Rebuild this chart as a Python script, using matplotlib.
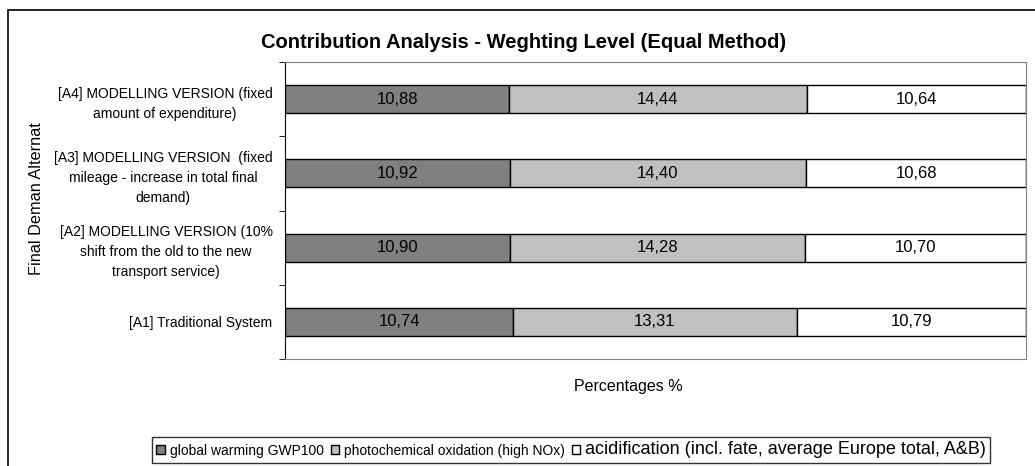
import numpy as np
import matplotlib
matplotlib.use('Agg')
import matplotlib.pyplot as plt
from matplotlib.patches import Rectangle

plt.rcParams['font.family'] = ['Liberation Sans', 'DejaVu Sans']

# Data (bottom to top)
categories = [
    '[A1] Traditional System',
    '[A2] MODELLING VERSION (10%\nshift from the old to the new\ntransport service)',
    '[A3] MODELLING VERSION  (fixed\nmileage - increase in total final\ndemand)',
    '[A4] MODELLING VERSION (fixed\namount of expenditure)',
]
series_names = [
    'global warming GWP100',
    'photochemical oxidation (high NOx)',
    'acidification (incl. fate, average Europe total, A&B)',
]
gwp = [10.74, 10.90, 10.92, 10.88]
photo = [13.31, 14.28, 14.40, 14.44]
acid = [10.79, 10.70, 10.68, 10.64]

colors = ['#808080', '#C0C0C0', '#FFFFFF']

fig = plt.figure(figsize=(10.35, 4.66), dpi=100)
ax = fig.add_axes([285 / 1035, 1 - 359 / 466, (1026 - 285) / 1035, (359 - 62) / 466])

# 100% stacked: widths are shares of each row total
values = np.array([gwp, photo, acid])
totals = values.sum(axis=0)
shares = values / totals * 100
y = np.arange(len(categories))

left = np.zeros(len(categories))
for i, name in enumerate(series_names):
    bars = ax.barh(y, shares[i], left=left, height=0.38, color=colors[i],
                   edgecolor='black', linewidth=1.0, label=name)
    for b, v in zip(bars, values[i]):
        ax.text(b.get_x() + b.get_width() / 2, b.get_y() + b.get_height() / 2,
                f'{v:.2f}'.replace('.', ','), ha='center', va='center', fontsize=12)
    left += shares[i]

ax.set_xlim(0, 100)
ax.set_ylim(-0.5, len(categories) - 0.5)
ax.set_xticks([])
ax.set_yticks(y)
ax.set_yticklabels(categories, fontsize=10, linespacing=1.55)
for lbl in ax.get_yticklabels():
    lbl.set_multialignment('center')
ax.tick_params(axis='y', which='major', length=0, pad=9)
ax.set_yticks(np.arange(-0.5, len(categories)), minor=True)
ax.tick_params(axis='y', which='minor', length=4, direction='out', color='black')

for s in ['top', 'right', 'bottom']:
    ax.spines[s].set_color('#808080')
ax.spines['left'].set_color('black')

fig.text(628 / 1035, 1 - 387 / 466, 'Percentages %', ha='center', va='center', fontsize=11.5)
fig.text(37 / 1035, 1 - 199 / 466, 'Final Deman Alternat', rotation=90,
         ha='center', va='center', fontsize=11.7)
fig.text(524 / 1035, 1 - 42 / 466, 'Contribution Analysis - Weghting Level (Equal Method)',
         ha='center', va='center', fontsize=14.5, fontweight='bold')

leg = fig.legend(loc='center', bbox_to_anchor=(571 / 1035, 1 - 450 / 466), ncol=3,
                 fontsize=10, frameon=True, fancybox=False, edgecolor='black',
                 handlelength=0.6, handleheight=0.6, handletextpad=0.35,
                 columnspacing=0.5, borderpad=0.35, borderaxespad=0)
leg.get_frame().set_linewidth(1.0)
leg.get_texts()[2].set_fontsize(13)

# outer chart border
fig.patches.append(Rectangle((8 / 1035, -0.02), 1.0, 1 - 10 / 466 + 0.02,
                             transform=fig.transFigure, fill=False,
                             edgecolor='black', linewidth=1.2))

fig.savefig('out.png', dpi=100, facecolor='white')
